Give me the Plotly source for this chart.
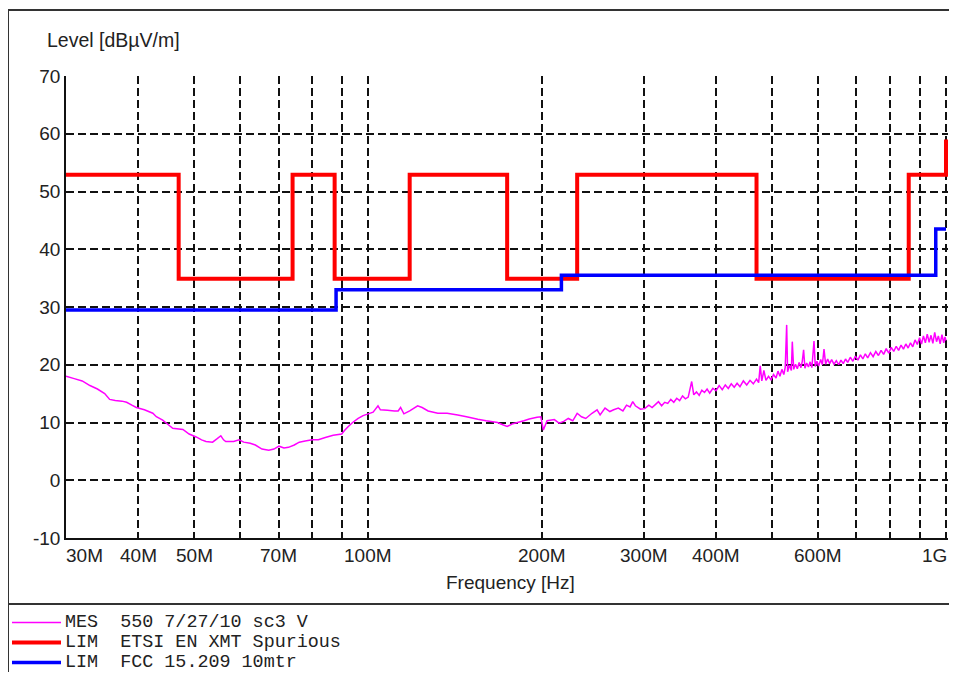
import plotly.graph_objects as go
import math

# ---------------- data ----------------
X_TICK_VALUES = [30, 40, 50, 70, 100, 200, 300, 400, 600, 1000]
X_TICK_LABELS = ["30M", "40M", "50M", "70M", "100M", "200M", "300M", "400M", "600M", "1G"]
X_GRID_VALUES = [30, 40, 50, 60, 70, 80, 90, 100, 200, 300, 400, 500, 600, 700, 800, 900, 1000]
Y_TICK_VALUES = [-10, 0, 10, 20, 30, 40, 50, 60, 70]
Y_TICK_LABELS = ["-10", "0", "10", "20", "30", "40", "50", "60", "70"]

ETSI_FREQ = [30, 47, 74, 87.5, 118, 174, 230, 470, 862, 1000]
ETSI_LEVEL = [52.9, 34.9, 52.9, 34.9, 52.9, 34.9, 52.9, 34.9, 52.9, 59.0]

FCC_FREQ = [30, 88, 216, 960, 1000]
FCC_LEVEL = [29.5, 33.0, 35.5, 43.5, 43.5]

MES_FREQ = [
    30, 31, 32, 33, 34, 35, 35.7, 36.5, 37.5, 38.2,
    39, 39.7, 41, 42.4, 43, 44.1, 45, 45.9, 47.8, 49,
    50.4, 51.5, 52.4, 53.8, 54.8, 55.6, 56.2, 56.7, 58.5, 59.8,
    60.9, 62.5, 63.8, 65.5, 67.3, 68.7, 70.1, 71.5, 72.8, 74.5,
    76, 77.8, 80, 82, 84.3, 87, 90, 91, 92.4, 94,
    96.1, 98, 100, 102, 104, 105, 108, 111, 112.7, 113.8,
    115.3, 118, 121.8, 124, 127, 132, 137, 142.9, 148, 154.8,
    160, 167.5, 171, 174, 178, 186, 190, 196, 199, 201,
    204, 210, 214, 218, 222, 226, 230, 234, 238, 244,
    249, 252, 257, 262, 266, 271, 276, 280, 284, 287,
    290, 296, 301, 306, 310, 314, 318, 322, 326, 330,
    334, 338, 342, 346, 350, 354, 358, 363, 366, 370,
    374, 378, 382, 386, 390, 395, 400, 405, 410, 415,
    420, 425, 430, 435, 440, 446, 452, 458, 464, 470,
    474, 477, 480, 484, 488, 493, 498, 503, 508, 512,
    516, 520, 524, 527, 530, 532, 536, 540, 542, 545,
    549, 553, 557, 561, 564, 567, 570, 574, 578, 582,
    586, 591, 594, 598, 602, 607, 611, 615, 619, 624,
    629, 634, 640, 646, 652, 658, 664, 670, 676, 683,
    690, 697, 704, 711, 718, 725, 732, 740, 748, 756,
    764, 772, 780, 788, 796, 804, 812, 820, 828, 836,
    844, 852, 860, 868, 876, 884, 892, 900, 907, 914,
    921, 928, 935, 942, 949, 956, 963, 970, 977, 984,
    991, 996, 1000]
MES_LEVEL = [
    18.0, 17.6, 17.2, 16.4, 15.8, 15.0, 14.0, 13.8, 13.7, 13.5,
    13.0, 12.6, 12.2, 11.6, 11.0, 10.4, 9.7, 9.0, 8.8, 8.0,
    7.5, 7.0, 6.7, 6.6, 7.2, 7.7, 7.0, 6.7, 6.7, 7.0,
    6.6, 6.4, 6.1, 5.4, 5.2, 5.4, 5.9, 5.6, 5.7, 6.1,
    6.6, 6.8, 7.0, 7.0, 7.4, 7.8, 8.0, 8.6, 9.3, 10.0,
    10.7, 11.2, 11.5, 11.8, 12.9, 12.2, 12.1, 12.0, 12.0, 12.6,
    11.5, 12.0, 12.9, 12.6, 12.0, 11.6, 11.6, 11.3, 11.0, 10.55,
    10.3, 10.0, 9.6, 9.3, 9.8, 10.3, 10.6, 10.9, 11.0, 8.7,
    10.3, 10.5, 9.9, 10.2, 10.7, 10.3, 11.6, 11.0, 10.7, 11.6,
    12.2, 11.3, 12.5, 11.9, 12.2, 12.5, 12.0, 13.0, 12.7, 13.6,
    12.9, 12.3, 12.4, 13.0, 12.6, 13.1, 13.6, 12.9, 13.5, 13.3,
    14.0, 13.5, 14.2, 13.8, 14.6, 14.1, 14.4, 17.1, 14.8, 15.3,
    14.7, 15.6, 15.2, 15.8, 15.1, 15.9, 15.5, 16.4, 15.7, 16.5,
    15.9, 16.7, 16.1, 16.8, 16.2, 17.2, 16.5, 17.3, 16.7, 17.5,
    16.9, 19.8, 17.2, 19.0, 17.3, 18.0, 17.4, 18.3, 17.7, 18.9,
    18.0, 19.2, 18.3, 19.6, 26.9, 18.8, 19.9, 19.0, 24.0, 19.2,
    20.1, 19.3, 20.4, 19.5, 20.6, 22.6, 19.4, 20.3, 19.6, 20.5,
    19.5, 24.1, 19.7, 20.6, 19.8, 20.9, 20.0, 22.7, 20.1, 21.0,
    20.2, 20.9, 20.1, 20.7, 20.0, 20.8, 20.2, 21.0, 20.4, 21.3,
    20.6, 21.5, 20.8, 21.7, 21.0, 21.9, 21.2, 22.1, 21.4, 22.3,
    21.6, 22.5, 21.8, 22.8, 22.0, 23.0, 22.3, 23.2, 22.5, 23.4,
    22.7, 23.6, 22.9, 23.8, 23.1, 24.3, 23.5, 24.7, 23.6, 25.0,
    23.8, 25.3, 23.9, 25.1, 23.7, 25.6, 24.0, 25.0, 23.6, 25.2,
    23.8, 24.8, 24.2]
assert len(MES_FREQ) == len(MES_LEVEL)

LEGEND_MARKERS = ["#FF00FF", "#FF0000", "#0000FF"]
LEGEND_TEXTS = ["MES  550 7/27/10 sc3 V", "LIM  ETSI EN XMT Spurious", "LIM  FCC 15.209 10mtr"]
Y_TITLE = "Level [dBµV/m]"
X_TITLE = "Frequency [Hz]"

# ---------------- layout geometry (page pixels) ----------------
BODY = 8                      # default page margin around the figure
WIN_W, WIN_H = 957, 690
W, H = WIN_W - 2 * BODY, WIN_H - 2 * BODY - 10   # fit inside the visible viewport
PL, PT, PB = 66, 76, 538      # plot area left / top / bottom in page pixels
X30, X1G = 66, 946            # page x of 30 MHz and 1 GHz
PR = 948                      # plot area right edge (a little past 1 GHz)

DEC_PER_PX = (math.log10(1000) - math.log10(30)) / (X1G - X30)
X_RANGE = [math.log10(30), math.log10(30) + (PR - PL) * DEC_PER_PX]


def px(x):
    return (x - PL) / (PR - PL)


def py(y):
    return (PB - y) / (PB - PT)


FONT = "Liberation Sans, Arial, sans-serif"
MONO = "Liberation Mono, Courier New, monospace"
TXT = "#222222"

fig = go.Figure()
fig.add_trace(go.Scatter(x=ETSI_FREQ, y=ETSI_LEVEL, mode="lines",
                         line=dict(color="#FF0000", width=4, shape="hv", simplify=False),
                         showlegend=False))
fig.add_trace(go.Scatter(x=FCC_FREQ, y=FCC_LEVEL, mode="lines",
                         line=dict(color="#0000FF", width=3.5, shape="hv", simplify=False),
                         showlegend=False))
fig.add_trace(go.Scatter(x=MES_FREQ, y=MES_LEVEL, mode="lines",
                         line=dict(color="#FF00FF", width=1.5, simplify=False), showlegend=False))

shapes = []
frame = dict(color="#333333", width=2)
shapes.append(dict(type="line", xref="paper", yref="paper", x0=px(8), x1=px(970), y0=py(10), y1=py(10), line=frame))
shapes.append(dict(type="line", xref="paper", yref="paper", x0=px(8), x1=px(8), y0=py(10), y1=py(700), line=frame))
shapes.append(dict(type="line", xref="paper", yref="paper", x0=px(8), x1=px(970), y0=py(604), y1=py(604), line=frame))
marker_widths = [1.5, 4, 3.5]
row_y = [622.5, 642.5, 662.5]
for c, w, yy in zip(LEGEND_MARKERS, marker_widths, row_y):
    shapes.append(dict(type="line", xref="paper", yref="paper", x0=px(12), x1=px(61),
                       y0=py(yy), y1=py(yy), line=dict(color=c, width=w)))

annotations = []
for v, lab in zip(X_TICK_VALUES, X_TICK_LABELS):
    anchor, shift = "center", 0
    if v == X_TICK_VALUES[0]:
        anchor, shift = "left", -2
    elif v == X_TICK_VALUES[-1]:
        anchor, shift = "right", 3
    annotations.append(dict(x=math.log10(v), y=py(555), xref="x", yref="paper", text=lab,
                            showarrow=False, xanchor=anchor, yanchor="middle", xshift=shift,
                            font=dict(family=FONT, size=19, color=TXT)))
annotations.append(dict(x=px(510), y=py(582), xref="paper", yref="paper", text=X_TITLE,
                        showarrow=False, xanchor="center", yanchor="middle",
                        font=dict(family=FONT, size=19, color=TXT)))
annotations.append(dict(x=px(45), y=py(40), xref="paper", yref="paper", text=Y_TITLE,
                        showarrow=False, xanchor="left", yanchor="middle",
                        font=dict(family=FONT, size=19.5, color=TXT)))
for t, yy in zip(LEGEND_TEXTS, row_y):
    annotations.append(dict(x=px(63), y=py(yy), xref="paper", yref="paper",
                            text=t.replace(" ", "\u00a0"), showarrow=False,
                            xanchor="left", yanchor="middle",
                            font=dict(family=MONO, size=18.4, color=TXT)))

fig.update_layout(
    width=W, height=H,
    margin=dict(l=PL - BODY, r=W - (PR - BODY), t=PT - BODY, b=H - (PB - BODY), pad=0),
    paper_bgcolor="white", plot_bgcolor="white",
    shapes=shapes, annotations=annotations,
    xaxis=dict(type="log", range=X_RANGE,
               tickvals=X_GRID_VALUES, showticklabels=False, ticks="",
               showgrid=True, gridcolor="#111111", gridwidth=1.5, griddash="8px,4px",
               showline=True, linecolor="#111111", linewidth=1.5, mirror=False,
               zeroline=False),
    yaxis=dict(range=[-10, 70], tickvals=Y_TICK_VALUES, ticktext=Y_TICK_LABELS, ticks="",
               tickfont=dict(family=FONT, size=19, color=TXT),
               showgrid=True, gridcolor="#111111", gridwidth=1.5, griddash="8px,4px",
               showline=True, linecolor="#111111", linewidth=1.5, mirror=False,
               zeroline=False),
)

fig.write_html("out.html")
